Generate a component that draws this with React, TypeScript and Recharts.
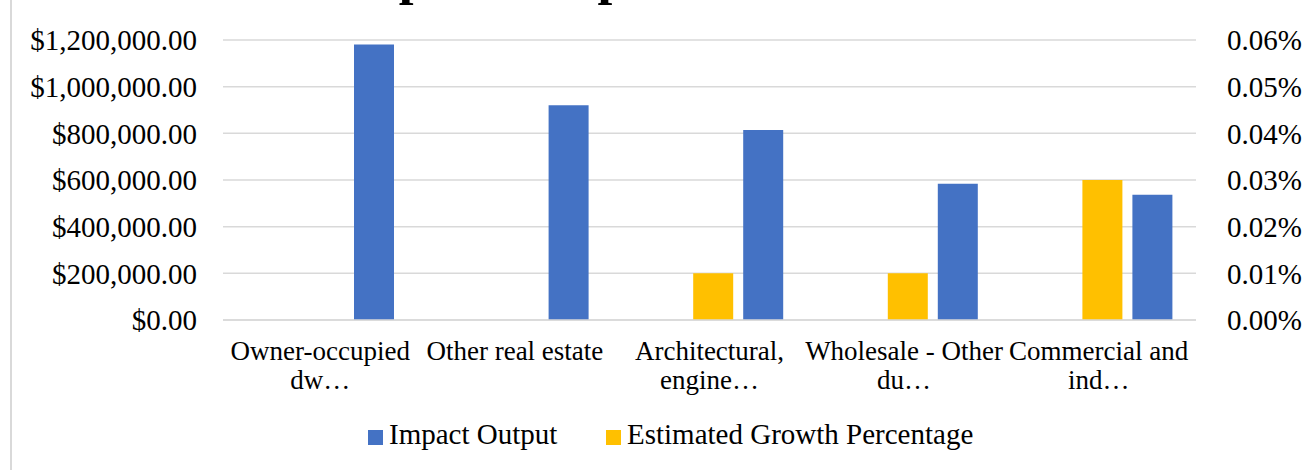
import React from "react";
import { BarChart, Bar, XAxis, YAxis, CartesianGrid } from "recharts";

const categories = [
  "Owner-occupied\ndw…",
  "Other real estate",
  "Architectural,\nengine…",
  "Wholesale - Other\ndu…",
  "Commercial and\nind…",
];
const impactOutput = [1181000, 920000, 814000, 584000, 537000];
const growthPct = [0, 0, 0.01, 0.01, 0.03];
const spacer = [0, 0, 0, 0, 0];
const leftTicks = [0, 200000, 400000, 600000, 800000, 1000000, 1200000];
const rightTicks = [0, 0.01, 0.02, 0.03, 0.04, 0.05, 0.06];
const titleText = "Impact Output vs Estimated Growth";
const seriesNames = ["Impact Output", "Estimated Growth Percentage"];

const BLUE = "#4472C4";
const YELLOW = "#FFC000";
const GRID = "#D9D9D9";
const FONT = "'Liberation Serif', 'Times New Roman', serif";

const data = categories.map((name, i) => ({
  name,
  spacer: spacer[i],
  impact: impactOutput[i],
  growth: growthPct[i],
}));

const fmtMoney = (v: number) =>
  "$" + v.toLocaleString("en-US", { minimumFractionDigits: 2, maximumFractionDigits: 2 });
const fmtPct = (v: number) => v.toFixed(2) + "%";

const CategoryTick = (props: any) => {
  const { x, y, payload } = props;
  const lines = String(payload.value).split("\n");
  return (
    <text x={x} y={y} textAnchor="middle" fill="#000" fontFamily={FONT} fontSize={27}>
      {lines.map((ln, i) => (
        <tspan key={i} x={x} dy={i === 0 ? 40 : 29}>
          {ln}
        </tspan>
      ))}
    </text>
  );
};

export default function App() {
  return (
    <div
      style={{
        position: "absolute",
        left: 0,
        top: 0,
        width: 1308,
        height: 470,
        background: "#fff",
        overflow: "hidden",
      }}
    >
      <div
        style={{
          position: "absolute",
          left: 10,
          top: 0,
          width: 2,
          height: 470,
          background: GRID,
        }}
      />
      <svg
        width={1308}
        height={30}
        style={{ position: "absolute", left: 0, top: 0 }}
      >
        <text
          x={334}
          y={-6}
          fontFamily={FONT}
          fontWeight="bold"
          fontSize={53}
          fill="#000"
        >
          {titleText}
        </text>
      </svg>
      <div style={{ position: "absolute", left: 0, top: 0 }}>
        <BarChart
          width={1308}
          height={470}
          data={data}
          margin={{ top: 40, right: 0, bottom: 0, left: 0 }}
          barGap={10}
        >
          <CartesianGrid yAxisId="left" vertical={false} stroke={GRID} strokeWidth={1.5} />
          <XAxis
            dataKey="name"
            axisLine={{ stroke: GRID, strokeWidth: 1.5 }}
            tickLine={false}
            tickSize={0}
            tickMargin={0}
            interval={0}
            tick={<CategoryTick />}
            height={150}
          />
          <YAxis
            yAxisId="left"
            orientation="left"
            width={223}
            domain={[0, 1200000]}
            ticks={leftTicks}
            tickFormatter={fmtMoney}
            axisLine={false}
            tickLine={false}
            tickSize={0}
            tickMargin={26}
            tick={{ fill: "#000", fontFamily: FONT, fontSize: 29 }}
            interval={0}
          />
          <YAxis
            yAxisId="right"
            orientation="right"
            width={112}
            domain={[0, 0.06]}
            ticks={rightTicks}
            tickFormatter={fmtPct}
            axisLine={false}
            tickLine={false}
            tickSize={0}
            tickMargin={31}
            tick={{ fill: "#000", fontFamily: FONT, fontSize: 29, textAnchor: "start" }}
            interval={0}
          />
          <Bar
            yAxisId="left"
            dataKey="spacer"
            barSize={47}
            fill="transparent"
            isAnimationActive={false}
          />
          <Bar
            yAxisId="right"
            dataKey="growth"
            name={seriesNames[1]}
            barSize={40}
            fill={YELLOW}
            isAnimationActive={false}
          />
          <Bar
            yAxisId="left"
            dataKey="impact"
            name={seriesNames[0]}
            barSize={40}
            fill={BLUE}
            isAnimationActive={false}
          />
        </BarChart>
      </div>
      <div
        style={{
          position: "absolute",
          left: 0,
          top: 0,
          width: 1308,
          height: 470,
          pointerEvents: "none",
          fontFamily: FONT,
          fontSize: 29,
          color: "#000",
        }}
      >
        <div style={{ position: "absolute", left: 368, top: 430, width: 15, height: 15, background: BLUE }} />
        <div style={{ position: "absolute", left: 389, top: 418, lineHeight: "32px", whiteSpace: "nowrap" }}>
          {seriesNames[0]}
        </div>
        <div style={{ position: "absolute", left: 606, top: 430, width: 15, height: 15, background: YELLOW }} />
        <div style={{ position: "absolute", left: 627, top: 418, lineHeight: "32px", whiteSpace: "nowrap" }}>
          {seriesNames[1]}
        </div>
      </div>
    </div>
  );
}
